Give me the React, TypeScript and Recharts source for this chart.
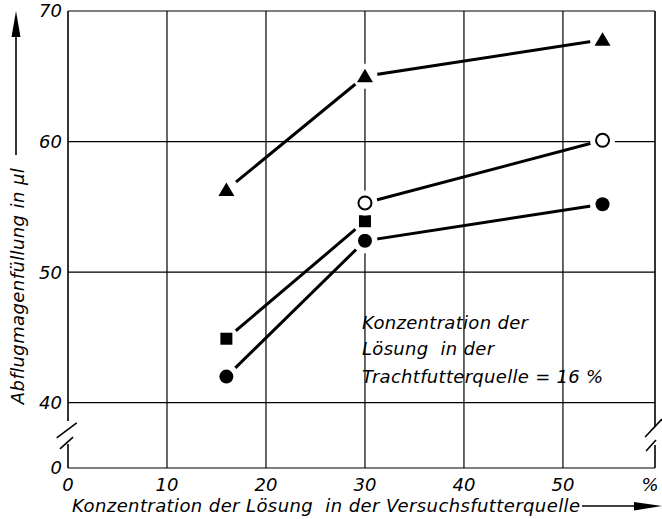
import React from 'react';
import { ComposedChart, Line, XAxis, YAxis, CartesianGrid, ReferenceLine, Customized } from 'recharts';

// ---- data ----
const concentrations = [16, 30, 54];
const triangleSeries = [56.3, 65.0, 67.8];
const openCircleSeries = [null, 55.3, 60.1];
const squareSeries = [44.9, 53.9, null];
const filledCircleSeries = [42.0, 52.4, 55.2];
const yTickLabels = [0, 40, 50, 60, 70];
const xTickLabels = [0, 10, 20, 30, 40, 50];
const xGridValues = [10, 20, 30, 40, 50];
const X_MAX = 59.3;
const PERCENT_TICK = 58.8;

// axis break: values >= 40 are shifted down so that 0 sits just below 40
const BREAK_SHIFT = 35;
const toPlotY = (v: number) => (v <= 0 ? 0 : v - BREAK_SHIFT);
const Y_MAX = toPlotY(70);

const build = (vals: (number | null)[]) =>
  concentrations
    .map((x, i) => ({ x, y: vals[i] == null ? null : toPlotY(vals[i] as number) }))
    .filter((d) => d.y != null);

const triangleData = build(triangleSeries);
const openCircleData = build(openCircleSeries);
const squareData = build(squareSeries);
const filledCircleData = build(filledCircleSeries);

const yTicks = yTickLabels.map(toPlotY);
const xTicks = [...xTickLabels, PERCENT_TICK];

// frame pieces with break marks (data coordinates)
const frameSegments: { x: number; y: number }[][] = [
  [{ x: 0, y: 3.6 }, { x: 0, y: Y_MAX }],
  [{ x: 0, y: 0 }, { x: 0, y: 1.84 }],
  [{ x: -1.14, y: 2.3 }, { x: 0.88, y: 3.45 }],
  [{ x: -0.81, y: 1.46 }, { x: 0.51, y: 2.37 }],
  [{ x: X_MAX, y: 3.14 }, { x: X_MAX, y: Y_MAX }],
  [{ x: X_MAX, y: 0 }, { x: X_MAX, y: 1.76 }],
  [{ x: 58.3, y: 2.37 }, { x: 60.0, y: 3.75 }],
  [{ x: 58.4, y: 1.3 }, { x: 59.4, y: 2.14 }],
];

const FONT = "'DejaVu Sans', sans-serif";
const HALO = 12.5;

type Kind = 'triangle' | 'open' | 'square' | 'filled';

const makeDot = (kind: Kind) => (props: any) => {
  const { cx, cy, index } = props;
  const key = `${kind}-${index}`;
  if (cx == null || cy == null) return <g key={key} />;
  let shape: React.ReactNode = null;
  if (kind === 'triangle') {
    shape = <polygon points={`${cx},${cy - 7.5} ${cx - 8},${cy + 6} ${cx + 8},${cy + 6}`} fill="#000" />;
  } else if (kind === 'open') {
    shape = <circle cx={cx} cy={cy} r={6.5} fill="#fff" stroke="#000" strokeWidth={2} />;
  } else if (kind === 'square') {
    shape = <rect x={cx - 6} y={cy - 6} width={12} height={12} fill="#000" />;
  } else {
    shape = <circle cx={cx} cy={cy} r={7} fill="#000" />;
  }
  return (
    <g key={key}>
      <circle cx={cx} cy={cy} r={HALO} fill="#fff" />
      {shape}
    </g>
  );
};

const Decorations = () => (
  <g fontFamily={FONT} fontStyle="italic" fill="#000">
    {/* y axis title with arrow */}
    <text
      x={24}
      y={286}
      transform="rotate(-90, 24, 286)"
      textAnchor="middle"
      fontSize={18}
      letterSpacing={0.4}
    >
      Abflugmagenfüllung in µl
    </text>
    <line x1={16} y1={155} x2={16} y2={30} stroke="#000" strokeWidth={1.6} />
    <polygon points="11.5,37 16,11 20.5,37" fill="#000" />
    {/* x axis title with arrow */}
    <text x={72} y={512} fontSize={18} letterSpacing={0.4} style={{ whiteSpace: 'pre' }}>
      {'Konzentration der Lösung  in der Versuchsfutterquelle'}
    </text>
    <line x1={582} y1={506} x2={645} y2={506} stroke="#000" strokeWidth={1.6} />
    <polygon points="634,502 662,506 634,510.5" fill="#000" />
    {/* annotation */}
    <text x={362} y={329} fontSize={18} letterSpacing={0.3} style={{ whiteSpace: 'pre' }}>Konzentration der</text>
    <text x={362} y={355} fontSize={18} letterSpacing={0.3} style={{ whiteSpace: 'pre' }}>{'Lösung  in der'}</text>
    <text x={362} y={383} fontSize={18} letterSpacing={0.3} style={{ whiteSpace: 'pre' }}>{'Trachtfutterquelle = 16 %'}</text>
  </g>
);

const tickStyle = { fontFamily: FONT, fontStyle: 'italic', fontSize: 18, fill: '#000' } as any;

export default function App() {
  return (
    <div style={{ position: 'absolute', left: 0, top: 0, width: 662, height: 519, background: '#fff' }}>
      <ComposedChart width={662} height={519} margin={{ top: 11, right: 7, bottom: 0, left: 0 }}>
        <CartesianGrid stroke="#000" strokeWidth={1.2} horizontal={true} vertical={false} />
        <XAxis
          type="number"
          dataKey="x"
          domain={[0, X_MAX]}
          ticks={xTicks}
          tickFormatter={(v: number) => (v === PERCENT_TICK ? '%' : String(v))}
          axisLine={false}
          tickLine={false}
          tickSize={0}
          tickMargin={10}
          height={51}
          tick={tickStyle}
          interval={0}
          allowDataOverflow
        />
        <YAxis
          type="number"
          domain={[0, Y_MAX]}
          ticks={yTicks}
          tickFormatter={(v: number) => String(yTickLabels[yTicks.indexOf(v)])}
          axisLine={false}
          tickLine={false}
          tickSize={0}
          tickMargin={6}
          width={68}
          tick={tickStyle}
          interval={0}
          allowDataOverflow
        />
        {xGridValues.map((v) => (
          <ReferenceLine key={`g${v}`} x={v} stroke="#000" strokeWidth={1.2} />
        ))}
        {frameSegments.map((seg, i) => (
          <ReferenceLine key={`f${i}`} segment={seg} stroke="#000" strokeWidth={1.6} ifOverflow="visible" />
        ))}
        <Line data={filledCircleData} dataKey="y" stroke="#000" strokeWidth={3} dot={makeDot('filled')} activeDot={false} isAnimationActive={false} />
        <Line data={squareData} dataKey="y" stroke="#000" strokeWidth={3} dot={makeDot('square')} activeDot={false} isAnimationActive={false} />
        <Line data={openCircleData} dataKey="y" stroke="#000" strokeWidth={3} dot={makeDot('open')} activeDot={false} isAnimationActive={false} />
        <Line data={triangleData} dataKey="y" stroke="#000" strokeWidth={3} dot={makeDot('triangle')} activeDot={false} isAnimationActive={false} />
        <Customized component={Decorations} />
      </ComposedChart>
    </div>
  );
}
